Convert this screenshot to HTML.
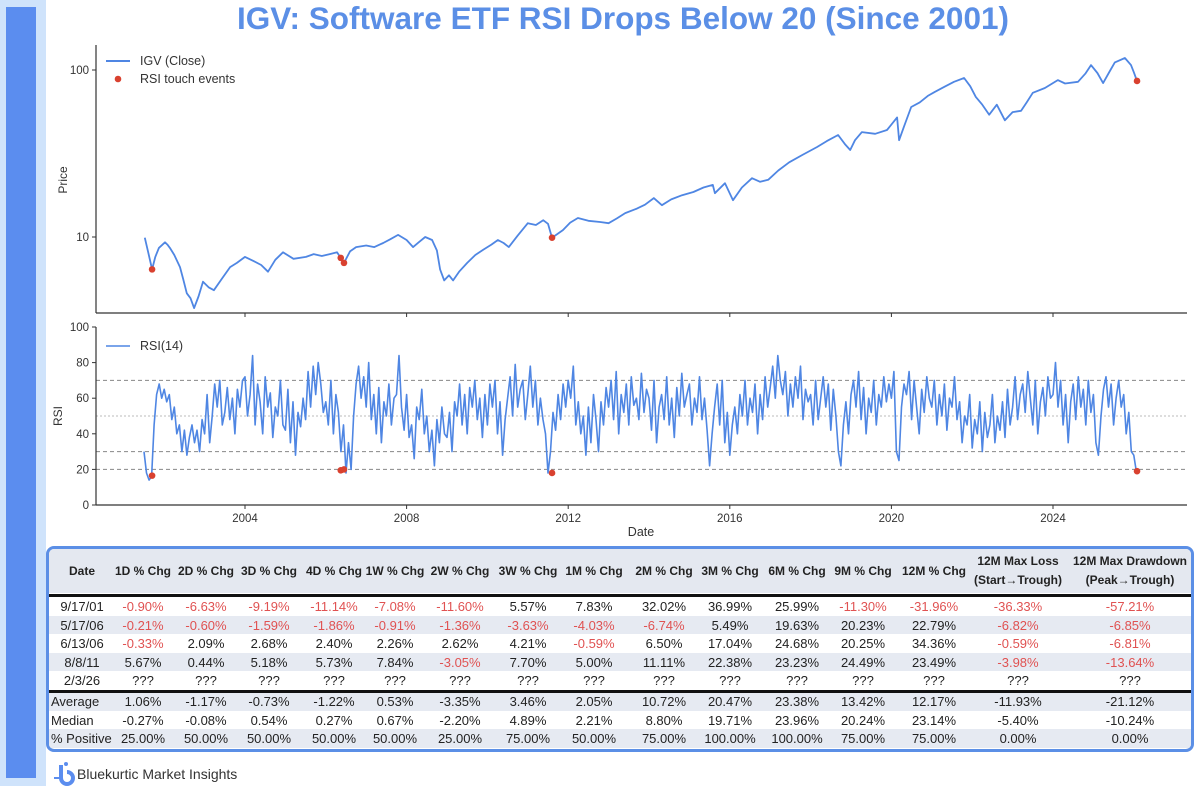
<!DOCTYPE html>
<html><head><meta charset="utf-8"><style>
body{margin:0;background:#fff;width:1200px;height:786px;overflow:hidden;position:relative;font-family:"Liberation Sans",sans-serif}
#side{position:absolute;left:0;top:0;width:46px;height:786px;background:#cfe3fb}
#bar{position:absolute;left:6px;top:7px;width:30px;height:771px;background:#5b8def}
#title{position:absolute;left:46px;width:1154px;top:0px;text-align:center;font-weight:bold;font-size:31.5px;color:#5b8fe6}
#tbl{position:absolute;left:46px;top:546px;width:1142px;height:200px;border:3px solid #5b8fe6;border-radius:8px;overflow:hidden;background:#fff}
.row{position:absolute;left:0;width:1142px}
.c{position:absolute;transform:translateX(-50%);white-space:nowrap;font-size:13px;color:#222}
.h{font-weight:bold;font-size:12px;text-align:center;line-height:19px}
.r{color:#e05252}
#foot{position:absolute;left:77px;top:766px;font-size:14px;color:#333}
</style></head><body>
<div id="side"></div>
<div id="bar"></div>
<div id="title">IGV: Software ETF RSI Drops Below 20 (Since 2001)</div>
<svg id="chart" width="1200" height="786" style="position:absolute;left:0;top:0"></svg>
<div id="tbl"></div>
<svg style="position:absolute;left:52px;top:760px" width="26" height="26"><circle cx="14" cy="4" r="2" fill="#5b8def"/><path d="M9 5 V18 A6 6 0 1 0 15 12" stroke="#5b8def" stroke-width="4" fill="none"/><line x1="2" y1="18" x2="9" y2="18" stroke="#5b8def" stroke-width="2"/></svg>
<div id="foot">Bluekurtic Market Insights</div>
<script>
// Price series (decimal year, close)
const priceYears=[2001.52,2001.6,2001.7,2001.78,2001.87,2002.02,2002.08,2002.14,2002.25,2002.39,2002.47,2002.56,2002.65,2002.74,2002.85,2002.96,2003.1,2003.23,2003.42,2003.63,2003.8,2004.0,2004.2,2004.4,2004.57,2004.75,2004.94,2005.2,2005.51,2005.7,2005.9,2006.1,2006.28,2006.37,2006.45,2006.6,2006.75,2007.0,2007.2,2007.42,2007.6,2007.79,2008.0,2008.16,2008.3,2008.46,2008.63,2008.75,2008.83,2008.93,2009.05,2009.15,2009.3,2009.5,2009.7,2009.9,2010.1,2010.26,2010.4,2010.53,2010.75,2011.0,2011.2,2011.38,2011.5,2011.6,2011.75,2011.87,2012.05,2012.24,2012.5,2012.79,2013.0,2013.2,2013.41,2013.7,2013.9,2014.12,2014.32,2014.55,2014.82,2015.1,2015.35,2015.58,2015.63,2015.88,2016.08,2016.3,2016.55,2016.75,2016.95,2017.2,2017.47,2017.8,2018.16,2018.4,2018.68,2018.85,2018.98,2019.1,2019.27,2019.6,2019.89,2020.14,2020.19,2020.3,2020.49,2020.7,2020.9,2021.08,2021.3,2021.55,2021.8,2021.95,2022.09,2022.25,2022.42,2022.61,2022.81,2023.0,2023.21,2023.35,2023.5,2023.8,2024.12,2024.3,2024.62,2024.8,2024.94,2025.1,2025.24,2025.4,2025.53,2025.78,2025.93,2026.0,2026.08];
const priceClose=[9.9,8.2,6.4,7.6,8.6,9.3,9.0,8.6,7.8,6.6,5.6,4.6,4.3,3.75,4.4,5.4,5.0,4.8,5.6,6.6,7.0,7.6,7.2,6.8,6.2,7.3,8.1,7.4,7.6,7.9,7.7,7.9,8.1,7.5,7.0,8.2,8.7,8.9,8.7,9.2,9.7,10.3,9.6,8.7,9.3,10.0,9.6,8.3,6.4,5.5,5.9,5.5,6.2,7.0,7.8,8.4,9.0,9.6,9.2,8.7,10.2,12.1,11.8,12.6,12.0,9.9,10.5,11.0,12.2,13.0,12.5,12.3,12.1,12.9,13.9,14.8,15.6,17.1,15.5,16.8,17.8,18.6,19.8,20.5,18.3,21,16.6,19.8,22.5,21.4,22,25,28,31,34.6,37.5,40.8,36,33.2,38,42.5,41.5,43.7,52,38,45,60,64,70,74,79,85,89.5,80,69,62,54,62,50,56,57,64,73,78,87,83,85,95,107,96,83.5,98,111,118,107,97,86];
// RSI(14), sampled 16 per year starting 2001.5
const rsiStart=2001.5;
const rsiVals=[30,18,14,16,45,62,68,60,
65,58,62,48,55,40,45,30,42,28,38,45,35,42,30,48,
40,62,35,50,68,55,70,45,52,66,48,60,40,65,55,70,
72,50,62,84,45,68,58,40,72,55,63,38,55,50,70,45,
42,65,35,58,28,52,44,60,48,75,55,78,62,80,68,52,
58,45,70,40,62,52,30,45,18,35,20,50,68,78,60,72,
55,80,48,62,40,66,35,58,50,68,45,60,62,84,55,42,
62,38,45,26,55,48,65,40,50,30,42,22,48,35,55,40,
38,52,30,58,50,68,45,62,40,66,55,70,48,60,38,62,
45,68,55,70,40,58,28,48,60,72,50,79,55,65,70,48,
62,78,55,70,45,60,48,40,18,30,52,42,62,48,68,55,
70,60,78,45,58,40,50,28,55,35,62,48,30,58,45,66,
55,70,48,75,40,62,52,68,45,72,56,60,48,74,52,65,
60,42,70,35,55,62,48,72,45,60,38,66,50,74,55,62,
68,45,60,52,72,48,60,42,22,40,55,68,45,70,35,52,
28,45,55,40,62,50,70,45,60,52,68,40,62,48,72,55,
66,78,60,84,70,62,75,50,68,55,72,60,78,48,65,58,
62,45,70,48,60,72,55,68,42,65,50,30,22,45,58,40,
62,70,55,75,48,66,40,60,52,70,45,62,55,72,58,68,
60,75,30,25,55,68,62,75,48,70,55,40,65,52,72,60,
55,70,45,62,50,68,42,60,55,72,48,58,35,50,45,62,
32,48,40,58,30,52,38,45,62,35,50,42,58,38,65,45,
55,72,48,62,68,52,75,60,45,70,40,58,66,50,72,60,
62,80,55,70,45,62,35,58,68,48,72,55,65,45,70,52,
62,35,28,50,65,72,55,68,45,60,70,55,62,40,52,30,
28,19];
const eventYears=[2001.7,2006.37,2006.45,2011.6,2026.08];
const eventPrice=[6.4,7.5,7.0,9.9,86];
const eventRsi=[16.5,19.5,20,18,19];
const yearTicks=[2004,2008,2012,2016,2020,2024];
const rsiTicks=[0,20,40,60,80,100];
const rsiRefLines=[70,50,30,20];
const priceTicks=[10,100];

const NS='http://www.w3.org/2000/svg';
const svg=document.getElementById('chart');
function el(t,a,p){const e=document.createElementNS(NS,t);for(const k in a)e.setAttribute(k,a[k]);(p||svg).appendChild(e);return e;}
const X0=96,X1=1187;
const xs=y=>245+(y-2004)*40.4;
const yp=p=>237-167*Math.log10(p/10);
const yr=v=>505-v*1.78;
const BLUE='#4f86e3',RED='#d9412f',AX='#333';

// ---- Price panel
let g=el('g',{});


let a=el('line',{x1:X0,y1:45,x2:X0,y2:313,stroke:AX,'stroke-width':1.2},g);

a=el('line',{x1:X0,y1:313,x2:X1,y2:313,stroke:AX,'stroke-width':1.2},g);

priceTicks.forEach(p=>{const y=yp(p);el('line',{x1:X0-4,y1:y,x2:X0,y2:y,stroke:AX},g);
 const t=el('text',{x:X0-7,y:y+4,'text-anchor':'end','font-size':11.5,fill:'#333'},g);t.textContent=p;
 });
yearTicks.forEach(v=>el('line',{x1:xs(v),y1:313,x2:xs(v),y2:317,stroke:AX},g));
let t=el('text',{x:0,y:0,transform:'translate(67,180) rotate(-90)','text-anchor':'middle','font-size':12,fill:'#333'},g);t.textContent='Price';

let d=priceYears.map((y,i)=>(i?'L':'M')+xs(y).toFixed(1)+' '+yp(priceClose[i]).toFixed(1)).join('');
let pl=el('path',{d:d,fill:'none',stroke:BLUE,'stroke-width':1.8,'stroke-linejoin':'round'},g);

eventYears.forEach((y,i)=>{const c=el('circle',{cx:xs(y),cy:yp(eventPrice[i]),r:3.3,fill:RED},g);
 });
el('line',{x1:106,y1:61,x2:130,y2:61,stroke:BLUE,'stroke-width':2},g);
t=el('text',{x:140,y:65,'font-size':12.5,fill:'#333'},g);t.textContent='IGV (Close)';

el('circle',{cx:118,cy:79,r:3.3,fill:RED},g);
t=el('text',{x:140,y:83,'font-size':12.5,fill:'#333'},g);t.textContent='RSI touch events';


// ---- RSI panel
g=el('g',{});


rsiRefLines.forEach(v=>{const l=el('line',{x1:X0,y1:yr(v),x2:X1,y2:yr(v),stroke:v==50?'#bbb':'#888','stroke-width':1,'stroke-dasharray':v==50?'2 2':'4 3'},g);
 });
a=el('line',{x1:X0,y1:327,x2:X0,y2:505,stroke:AX,'stroke-width':1.2},g);

a=el('line',{x1:X0,y1:505,x2:X1,y2:505,stroke:AX,'stroke-width':1.2},g);

rsiTicks.forEach(v=>{const y=yr(v);el('line',{x1:X0-4,y1:y,x2:X0,y2:y,stroke:AX},g);
 const tt=el('text',{x:X0-7,y:y+4,'text-anchor':'end','font-size':11.5,fill:'#333'},g);tt.textContent=v;
 });
yearTicks.forEach(v=>{el('line',{x1:xs(v),y1:505,x2:xs(v),y2:509,stroke:AX},g);
 const tt=el('text',{x:xs(v),y:522,'text-anchor':'middle','font-size':11.5,fill:'#333'},g);tt.textContent=v;
 });
t=el('text',{x:641,y:536,'text-anchor':'middle','font-size':12.5,fill:'#333'},g);t.textContent='Date';

t=el('text',{x:0,y:0,transform:'translate(62,416) rotate(-90)','text-anchor':'middle','font-size':12,fill:'#333'},g);t.textContent='RSI';

d=rsiVals.map((v,i)=>(i?'L':'M')+xs(rsiStart+i/16).toFixed(1)+' '+yr(v).toFixed(1)).join('');
pl=el('path',{d:d,fill:'none',stroke:BLUE,'stroke-width':1.6,'stroke-linejoin':'round'},g);

eventYears.forEach((y,i)=>{const c=el('circle',{cx:xs(y),cy:yr(eventRsi[i]),r:3.3,fill:RED},g);
 });
el('line',{x1:106,y1:346,x2:130,y2:346,stroke:BLUE,'stroke-width':1.5},g);
t=el('text',{x:140,y:350,'font-size':12.5,fill:'#333'},g);t.textContent='RSI(14)';


// ---- Table
const cols=[33,94,157,220,285,346,411,479,545,615,681,748,814,885,969,1081];
const heads=['Date','1D % Chg','2D % Chg','3D % Chg','4D % Chg','1W % Chg','2W % Chg','3W % Chg','1M % Chg','2M % Chg','3M % Chg','6M % Chg','9M % Chg','12M % Chg','12M Max Loss<br>(Start→Trough)','12M Max Drawdown<br>(Peak→Trough)'];
const rows=[
['9/17/01','-0.90%','-6.63%','-9.19%','-11.14%','-7.08%','-11.60%','5.57%','7.83%','32.02%','36.99%','25.99%','-11.30%','-31.96%','-36.33%','-57.21%'],
['5/17/06','-0.21%','-0.60%','-1.59%','-1.86%','-0.91%','-1.36%','-3.63%','-4.03%','-6.74%','5.49%','19.63%','20.23%','22.79%','-6.82%','-6.85%'],
['6/13/06','-0.33%','2.09%','2.68%','2.40%','2.26%','2.62%','4.21%','-0.59%','6.50%','17.04%','24.68%','20.25%','34.36%','-0.59%','-6.81%'],
['8/8/11','5.67%','0.44%','5.18%','5.73%','7.84%','-3.05%','7.70%','5.00%','11.11%','22.38%','23.23%','24.49%','23.49%','-3.98%','-13.64%'],
['2/3/26','???','???','???','???','???','???','???','???','???','???','???','???','???','???','???'],
['Average','1.06%','-1.17%','-0.73%','-1.22%','0.53%','-3.35%','3.46%','2.05%','10.72%','20.47%','23.38%','13.42%','12.17%','-11.93%','-21.12%'],
['Median','-0.27%','-0.08%','0.54%','0.27%','0.67%','-2.20%','4.89%','2.21%','8.80%','19.71%','23.96%','20.24%','23.14%','-5.40%','-10.24%'],
['% Positive','25.00%','50.00%','50.00%','50.00%','50.00%','25.00%','75.00%','50.00%','75.00%','100.00%','100.00%','75.00%','75.00%','0.00%','0.00%']];
const rowTop=[48,66.5,85,103.5,122,143,161.5,180];
const rowBg=['#fff','#e6eaf2','#fff','#e6eaf2','#fff','#e6eaf2','#fff','#e6eaf2'];
const tbl=document.getElementById('tbl');
let hd=document.createElement('div');hd.className='row';hd.style.cssText='top:0;height:44px;background:#e4e8f0';

heads.forEach((h,i)=>{const c=document.createElement('div');c.className='c h';c.innerHTML=h;c.style.left=cols[i]+'px';
 c.style.top=(h.includes('<br>')?3:13)+'px';hd.appendChild(c);});
tbl.appendChild(hd);
rows.forEach((r,ri)=>{const rw=document.createElement('div');rw.className='row';
 rw.style.cssText='top:'+rowTop[ri]+'px;height:'+(ri==4?20:18.5)+'px;background:'+rowBg[ri];
 
 r.forEach((v,i)=>{const c=document.createElement('div');c.className='c'+(ri<4&&v[0]=='-'?' r':'');c.textContent=v;
  c.style.left=(i==0&&ri>4?2:cols[i])+'px';if(i==0&&ri>4)c.style.transform='none';c.style.top='2px';
  rw.appendChild(c);});
 tbl.appendChild(rw);});
[45,141].forEach(y=>{const l=document.createElement('div');l.style.cssText='position:absolute;left:0;width:1142px;height:2.5px;background:#111;top:'+y+'px';
 tbl.appendChild(l);});
</script>
</body></html>
